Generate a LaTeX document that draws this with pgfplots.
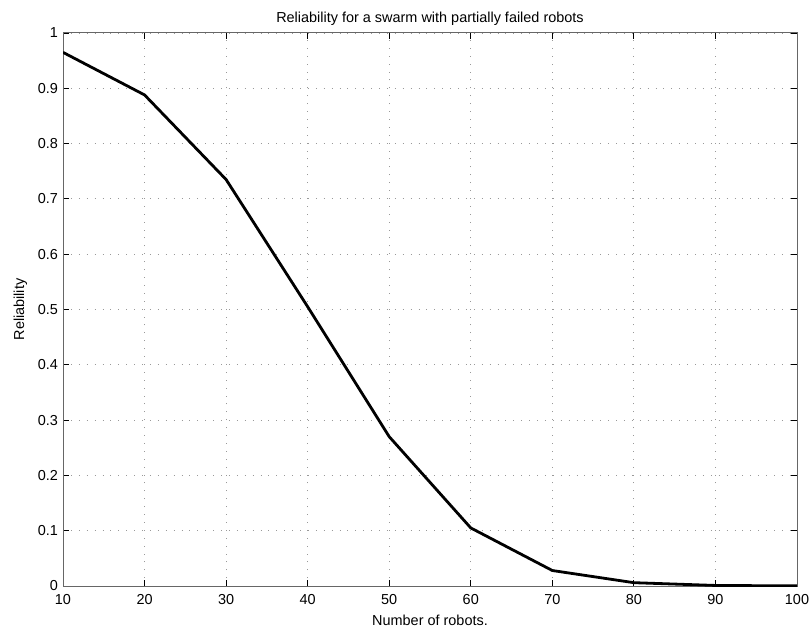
\documentclass[border=0pt]{standalone}
\usepackage{fontspec}
\setmainfont{Liberation Sans}
\usepackage{pgfplots}
\pgfplotsset{compat=1.18}
\begin{document}
\fontsize{14.5}{17}\selectfont
\begin{tikzpicture}
\begin{axis}[
  scale only axis,
  width=734bp, height=553bp,
  xmin=10, xmax=100, ymin=0, ymax=1,
  xtick={10,20,...,100},
  ytick={0,0.1,...,1},
  yticklabels={0,0.1,0.2,0.3,0.4,0.5,0.6,0.7,0.8,0.9,1},
  /pgf/number format/assume math mode=true,
  tick label style={font=\fontsize{14.5}{17}\selectfont},
  xticklabel style={yshift=-3bp},
  label style={font=\fontsize{14.5}{17}\selectfont},
  title style={font=\fontsize{14.5}{17}\selectfont, yshift=-3bp},
  title={Reliability for a swarm with partially failed robots},
  xlabel={Number of robots.},
  ylabel={Reliability},
  xlabel style={yshift=-1bp},
  ylabel style={yshift=1bp},
  axis line style={gray!80!black, line width=1bp},
  tick style={black, line width=0.8bp},
  tick align=inside,
  major tick length=6bp,
  xtick pos=both, ytick pos=both,
  grid=major,
  major grid style={gray!80, line width=0.8bp, dash pattern=on 0.9bp off 7bp},
]
\addplot[black, line width=2.8bp] coordinates {
(10,0.965)(20,0.888)(30,0.735)(40,0.505)(50,0.270)(60,0.105)(70,0.028)(80,0.006)(90,0.001)(100,0.0002)};
\end{axis}
\pgfresetboundingbox
\path (current axis.south west) ++(-63bp,-44bp) coordinate (bl);
\path (current axis.north east) ++(12bp,33bp) coordinate (tr);
\path (bl) rectangle (tr);
\end{tikzpicture}
\end{document}
